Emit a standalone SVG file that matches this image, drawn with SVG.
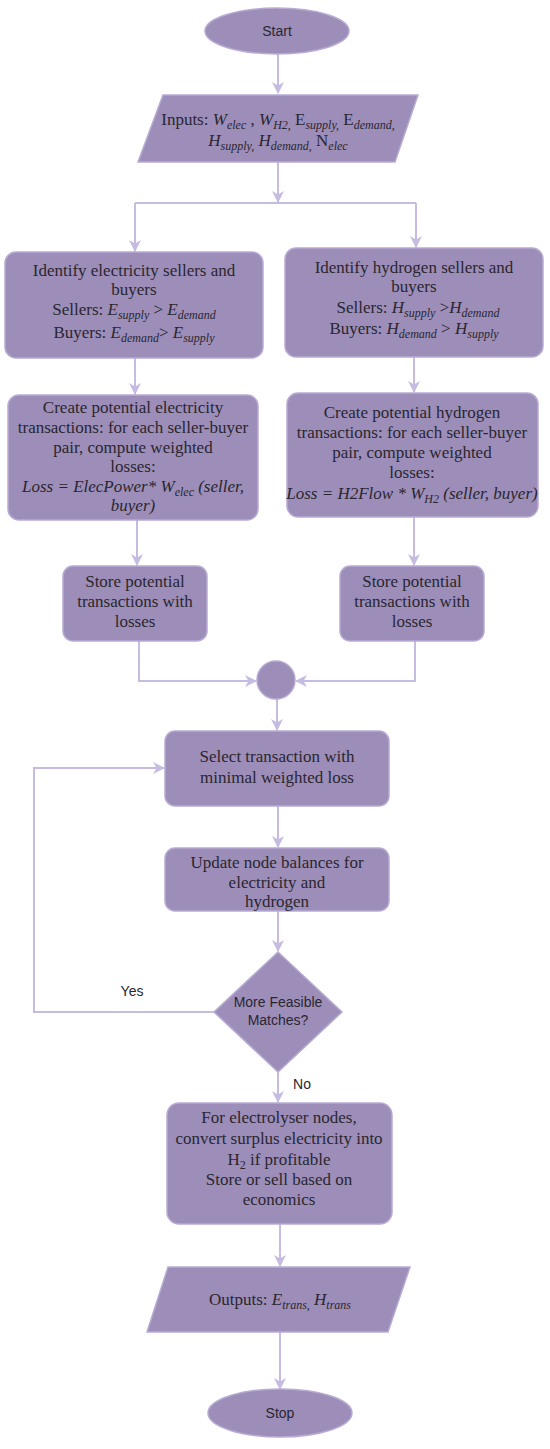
<svg xmlns="http://www.w3.org/2000/svg" width="550" height="1449" viewBox="0 0 550 1449">
<style>
.sh{fill:#9c8eb8;stroke:#b8abd3;stroke-width:1.5}
.c{fill:none;stroke:#c6bbe1;stroke-width:2}
.t{font-family:"Liberation Serif","Times New Roman",serif;font-size:17px;fill:#2a2630;text-anchor:middle}
.s{font-family:"Liberation Sans",Arial,sans-serif;font-size:14px;fill:#2a2630;text-anchor:middle}
.i{font-style:italic}
.sb{font-size:12px;font-style:italic}
</style>
<defs>
<marker id="ah" viewBox="0 0 12 12" refX="11" refY="6" markerWidth="12" markerHeight="12" markerUnits="userSpaceOnUse" orient="auto">
<path d="M0,0 L12,6 L0,12 L3.5,6 z" fill="#c6bbe1"/>
</marker>
</defs>
<rect width="550" height="1449" fill="#ffffff"/>
<g id="connectors">
<path class="c" d="M278 54 V93" marker-end="url(#ah)"/>
<path class="c" d="M278 162 V202"/>
<path class="c" d="M278 192 V202" marker-end="url(#ah)"/>
<path class="c" d="M135 203 H416"/>
<path class="c" d="M135 203 V251" marker-end="url(#ah)"/>
<path class="c" d="M416 203 V247" marker-end="url(#ah)"/>
<path class="c" d="M135 358 V394" marker-end="url(#ah)"/>
<path class="c" d="M414 357 V392" marker-end="url(#ah)"/>
<path class="c" d="M137 520 V565" marker-end="url(#ah)"/>
<path class="c" d="M414 517 V565" marker-end="url(#ah)"/>
<path class="c" d="M139 641 V681 H256" marker-end="url(#ah)"/>
<path class="c" d="M415 641 V681 H296" marker-end="url(#ah)"/>
<path class="c" d="M277 699 V730" marker-end="url(#ah)"/>
<path class="c" d="M278 806 V847" marker-end="url(#ah)"/>
<path class="c" d="M278 911 V951" marker-end="url(#ah)"/>
<path class="c" d="M214 1012 H34 V768 H164" marker-end="url(#ah)"/>
<path class="c" d="M278 1072 V1102" marker-end="url(#ah)"/>
<path class="c" d="M280 1224 V1266" marker-end="url(#ah)"/>
<path class="c" d="M280 1332 V1389" marker-end="url(#ah)"/>
</g>
<g id="start">
<ellipse class="sh" cx="277" cy="31" rx="72" ry="23"/>
<text class="s" x="277" y="36">Start</text>
</g>
<g id="inputs">
<polygon class="sh" points="163,95 418,95 395,162 138,162"/>
<text class="t" x="278" y="125">Inputs: <tspan class="i">W</tspan><tspan class="sb" dy="4">elec</tspan><tspan dy="-4"> , </tspan><tspan class="i">W</tspan><tspan class="sb" dy="4">H2,</tspan><tspan dy="-4"> E</tspan><tspan class="sb" dy="4">supply,</tspan><tspan dy="-4"> E</tspan><tspan class="sb" dy="4">demand,</tspan></text>
<text class="t" x="278" y="146"><tspan class="i">H</tspan><tspan class="sb" dy="4">supply,</tspan><tspan dy="-4"> </tspan><tspan class="i">H</tspan><tspan class="sb" dy="4">demand,</tspan><tspan dy="-4"> N</tspan><tspan class="sb" dy="4">elec</tspan></text>
</g>
<g id="identify-elec">
<rect class="sh" x="5" y="252" width="258" height="106" rx="11"/>
<text class="t" x="134" y="276">Identify electricity sellers and</text>
<text class="t" x="134" y="295">buyers</text>
<text class="t" x="134" y="315">Sellers: <tspan class="i">E</tspan><tspan class="sb" dy="4">supply</tspan><tspan dy="-4"> &gt; </tspan><tspan class="i">E</tspan><tspan class="sb" dy="4">demand</tspan></text>
<text class="t" x="134" y="338">Buyers: <tspan class="i">E</tspan><tspan class="sb" dy="4">demand</tspan><tspan dy="-4">&gt; </tspan><tspan class="i">E</tspan><tspan class="sb" dy="4">supply</tspan></text>
</g>
<g id="identify-h2">
<rect class="sh" x="285" y="248" width="258" height="109" rx="11"/>
<text class="t" x="414" y="273">Identify hydrogen sellers and</text>
<text class="t" x="414" y="292">buyers</text>
<text class="t" x="418" y="313">Sellers: <tspan class="i">H</tspan><tspan class="sb" dy="4">supply</tspan><tspan dy="-4"> &gt;</tspan><tspan class="i">H</tspan><tspan class="sb" dy="4">demand</tspan></text>
<text class="t" x="414" y="334">Buyers: <tspan class="i">H</tspan><tspan class="sb" dy="4">demand</tspan><tspan dy="-4"> &gt; </tspan><tspan class="i">H</tspan><tspan class="sb" dy="4">supply</tspan></text>
</g>
<g id="create-elec">
<rect class="sh" x="8" y="395" width="250" height="125" rx="11"/>
<text class="t" x="133" y="413">Create potential electricity</text>
<text class="t" x="133" y="433">transactions: for each seller-buyer</text>
<text class="t" x="133" y="453">pair, compute weighted</text>
<text class="t" x="133" y="472">losses:</text>
<text class="t" x="133" y="492"><tspan class="i">Loss = ElecPower* W</tspan><tspan class="sb" dy="4">elec</tspan><tspan class="i" dy="-4">  (seller,</tspan></text>
<text class="t i" x="133" y="511">buyer)</text>
</g>
<g id="create-h2">
<rect class="sh" x="287" y="393" width="251" height="124" rx="11"/>
<text class="t" x="412" y="418">Create potential hydrogen</text>
<text class="t" x="412" y="438">transactions: for each seller-buyer</text>
<text class="t" x="412" y="458">pair, compute weighted</text>
<text class="t" x="412" y="478">losses:</text>
<text class="t" x="412" y="499"><tspan class="i">Loss = H2Flow * W</tspan><tspan class="sb" dy="4">H2</tspan><tspan class="i" dy="-4">  (seller, buyer)</tspan></text>
</g>
<g id="store-elec">
<rect class="sh" x="63" y="566" width="144" height="75" rx="10"/>
<text class="t" x="135" y="587">Store potential</text>
<text class="t" x="135" y="607">transactions with</text>
<text class="t" x="135" y="627">losses</text>
</g>
<g id="store-h2">
<rect class="sh" x="340" y="566" width="144" height="75" rx="10"/>
<text class="t" x="412" y="587">Store potential</text>
<text class="t" x="412" y="607">transactions with</text>
<text class="t" x="412" y="627">losses</text>
</g>
<g id="merge">
<circle class="sh" cx="276" cy="680" r="19"/>
</g>
<g id="select">
<rect class="sh" x="165" y="731" width="224" height="75" rx="10"/>
<text class="t" x="277" y="762">Select transaction with</text>
<text class="t" x="277" y="783">minimal weighted loss</text>
</g>
<g id="update">
<rect class="sh" x="165" y="848" width="224" height="63" rx="10"/>
<text class="t" x="277" y="868">Update node balances for</text>
<text class="t" x="277" y="888">electricity and</text>
<text class="t" x="277" y="907">hydrogen</text>
</g>
<g id="decision">
<polygon class="sh" points="278,952 342,1012 278,1072 214,1012"/>
<text class="s" x="278" y="1007">More Feasible</text>
<text class="s" x="278" y="1025">Matches?</text>
<text class="s" x="132" y="996">Yes</text>
<text class="s" x="302" y="1089">No</text>
</g>
<g id="electrolyser">
<rect class="sh" x="167" y="1103" width="225" height="121" rx="12"/>
<text class="t" x="279" y="1123">For electrolyser nodes,</text>
<text class="t" x="279" y="1144">convert surplus electricity into</text>
<text class="t" x="279" y="1165">H<tspan font-size="12" dy="4">2</tspan><tspan dy="-4"> if profitable</tspan></text>
<text class="t" x="279" y="1185">Store or sell based on</text>
<text class="t" x="279" y="1205">economics</text>
</g>
<g id="outputs">
<polygon class="sh" points="168,1267 410,1267 388,1332 147,1332"/>
<text class="t" x="280" y="1305">Outputs: <tspan class="i">E</tspan><tspan class="sb" dy="4">trans,</tspan><tspan dy="-4"> </tspan><tspan class="i">H</tspan><tspan class="sb" dy="4">trans</tspan></text>
</g>
<g id="stop">
<ellipse class="sh" cx="280" cy="1413" rx="72" ry="24"/>
<text class="s" x="280" y="1418">Stop</text>
</g>
</svg>
